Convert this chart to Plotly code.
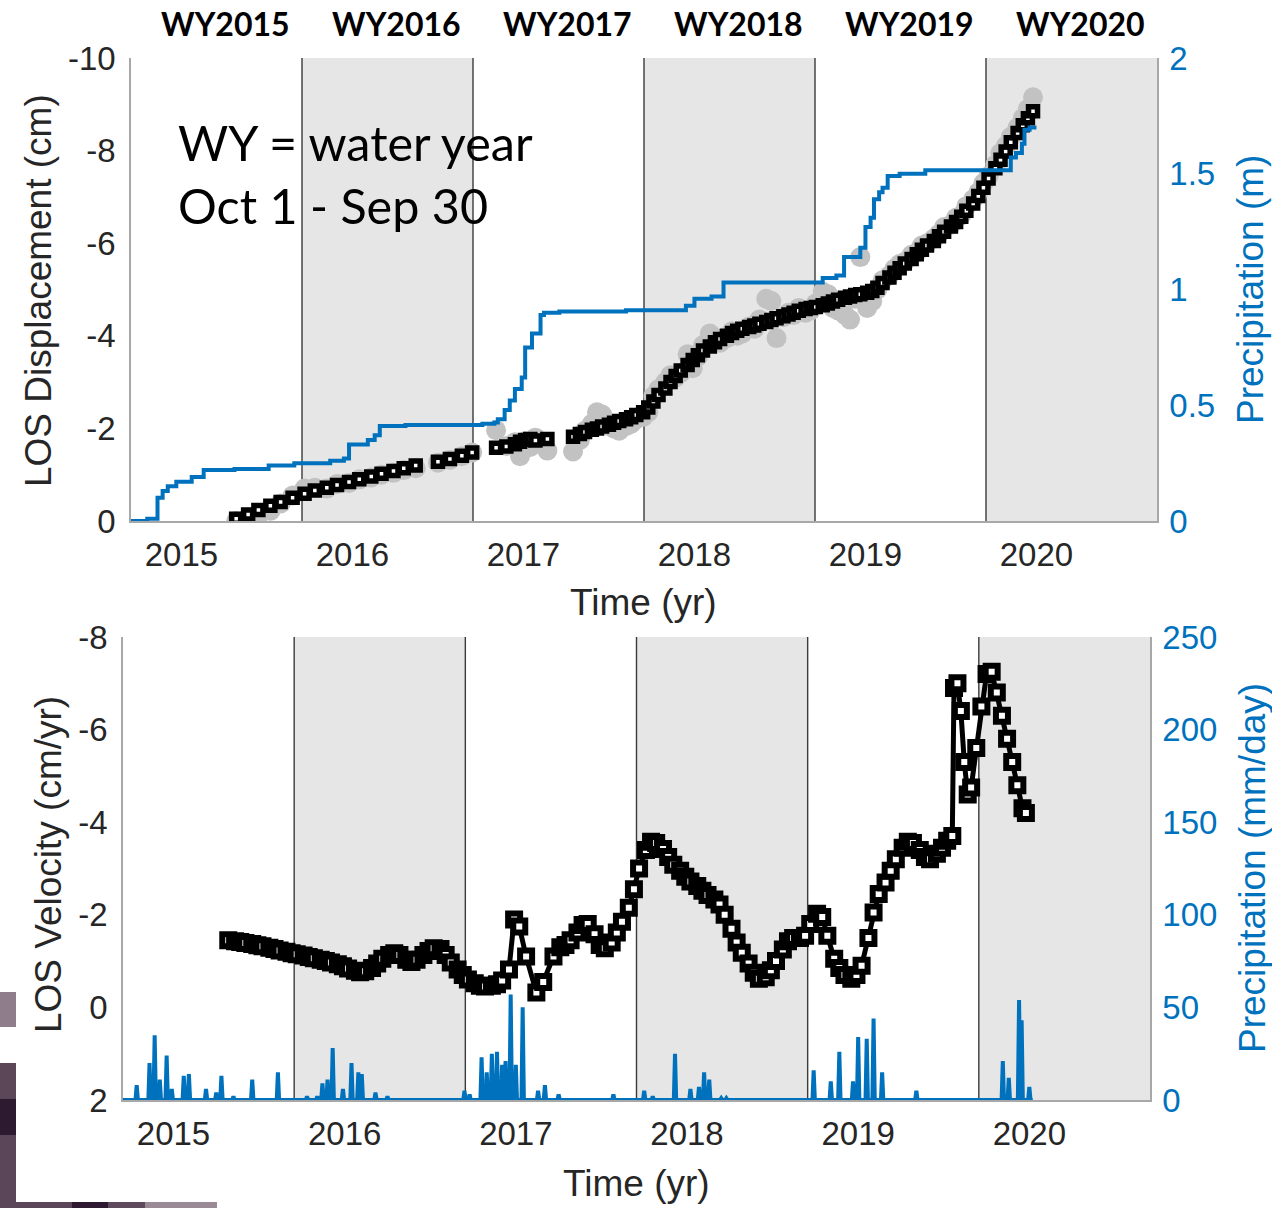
import plotly.graph_objects as go

W, H = 1272, 1208

# ------------------------------------------------------------------ data
years = [2015, 2016, 2017, 2018, 2019, 2020]
year_labels = ["2015", "2016", "2017", "2018", "2019", "2020"]
wy_labels = ["WY2015", "WY2016", "WY2017", "WY2018", "WY2019", "WY2020"]
wy_start = [2014.705, 2015.705, 2016.705, 2017.705, 2018.705, 2019.705]
wy_end = 2020.705

# LOS displacement (cm): smoothed (black squares) and raw (grey)
disp_t = [2015.32, 2015.39, 2015.45, 2015.52, 2015.58, 2015.65, 2015.72, 2015.78, 2015.85, 2015.91,
          2015.98, 2016.04, 2016.11, 2016.17, 2016.24, 2016.30, 2016.37, 2016.50, 2016.57, 2016.64,
          2016.70, 2016.84, 2016.90, 2016.95, 2016.98, 2017.01, 2017.04, 2017.07, 2017.14,
          2017.29, 2017.33, 2017.36, 2017.40, 2017.43, 2017.46, 2017.50, 2017.53, 2017.56, 2017.60,
          2017.63, 2017.66, 2017.70, 2017.73, 2017.76, 2017.79, 2017.83, 2017.86, 2017.89, 2017.92,
          2017.96, 2017.99, 2018.02, 2018.05, 2018.09, 2018.12, 2018.15, 2018.19, 2018.22, 2018.25,
          2018.28, 2018.32, 2018.35, 2018.38, 2018.42, 2018.45, 2018.48, 2018.52, 2018.55, 2018.58,
          2018.61, 2018.65, 2018.68, 2018.71, 2018.75, 2018.78, 2018.81, 2018.84, 2018.88, 2018.91,
          2018.94, 2018.97, 2019.01, 2019.04, 2019.07, 2019.10, 2019.14, 2019.17, 2019.20, 2019.23,
          2019.27, 2019.30, 2019.33, 2019.36, 2019.40, 2019.43, 2019.46, 2019.50, 2019.53, 2019.56,
          2019.59, 2019.63, 2019.66, 2019.69, 2019.72, 2019.76, 2019.79, 2019.82, 2019.85, 2019.89,
          2019.92, 2019.95, 2019.98]
disp_smooth = [-0.05, -0.14, -0.24, -0.33, -0.41, -0.50, -0.59, -0.66, -0.72, -0.78,
               -0.84, -0.90, -0.96, -1.02, -1.08, -1.14, -1.20, -1.28, -1.34, -1.41,
               -1.48, -1.58, -1.61, -1.66, -1.71, -1.75, -1.77, -1.74, -1.77,
               -1.82, -1.88, -1.92, -1.97, -2.00, -2.04, -2.08, -2.12, -2.16, -2.20,
               -2.24, -2.29, -2.35, -2.45, -2.58, -2.72, -2.86, -3.00, -3.13, -3.25,
               -3.37, -3.48, -3.58, -3.68, -3.77, -3.86, -3.93, -4.00, -4.06, -4.11,
               -4.15, -4.19, -4.22, -4.26, -4.30, -4.34, -4.38, -4.42, -4.46, -4.50,
               -4.54, -4.58, -4.60, -4.62, -4.66, -4.70, -4.74, -4.78, -4.82, -4.85,
               -4.88, -4.90, -4.93, -4.97, -5.04, -5.14, -5.26, -5.36, -5.46, -5.56,
               -5.66, -5.76, -5.86, -5.95, -6.05, -6.15, -6.25, -6.36, -6.46, -6.57,
               -6.70, -6.86, -7.02, -7.20, -7.40, -7.62, -7.80, -7.98, -8.18, -8.38,
               -8.55, -8.70, -8.85]
disp_raw = [0.00, -0.08, -0.12, -0.22, -0.38, -0.55, -0.70, -0.72, -0.70, -0.80,
            -0.82, -0.90, -0.94, -1.00, -1.04, -1.10, -1.14, -1.26, -1.32, -1.40,
            -1.48, -1.96, -1.62, -1.70, -1.40, -1.72, -1.60, -1.80, -1.52,
            -1.50, -1.75, -1.95, -2.10, -2.35, -2.30, -2.05, -2.00, -1.95, -2.05,
            -2.10, -2.20, -2.25, -2.35, -2.70, -2.85, -3.00, -3.15, -3.10, -3.20,
            -3.60, -3.30, -3.55, -3.80, -4.05, -3.95, -3.85, -3.95, -4.10, -4.00,
            -4.05, -4.20, -4.15, -4.35, -4.80, -4.75, -3.95, -4.40, -4.50, -4.45,
            -4.60, -4.50, -4.55, -4.70, -4.95, -4.90, -4.60, -4.55, -4.45, -4.35,
            -4.80, -5.70, -4.60, -4.75, -5.00, -5.20, -5.30, -5.45, -5.55, -5.60,
            -5.75, -5.80, -5.95, -6.00, -6.10, -6.20, -6.35, -6.40, -6.55, -6.60,
            -6.80, -6.95, -7.10, -7.30, -7.45, -7.70, -7.95, -8.10, -8.30, -8.50,
            -8.70, -8.90, -9.15]

# cumulative precipitation (m)
cum_t = [2014.705, 2014.80, 2014.86, 2014.89, 2014.92, 2014.97, 2015.06, 2015.13, 2015.31, 2015.51,
         2015.66, 2015.87, 2015.95, 2015.98, 2016.09, 2016.13, 2016.16, 2016.31, 2016.76, 2016.83,
         2016.85, 2016.89, 2016.92, 2016.95, 2016.99, 2017.01, 2017.05, 2017.10, 2017.12, 2017.21,
         2017.60, 2017.95, 2018.00, 2018.10, 2018.17, 2018.75, 2018.83, 2018.875, 2018.97, 2019.00,
         2019.03, 2019.05, 2019.08, 2019.10, 2019.13, 2019.20, 2019.35, 2019.85, 2019.88, 2019.915,
         2019.93, 2019.96, 2020.00]
cum_precip_m = [0.00, 0.01, 0.10, 0.13, 0.15, 0.17, 0.19, 0.22, 0.225, 0.24,
                0.25, 0.26, 0.27, 0.33, 0.35, 0.37, 0.41, 0.415, 0.42, 0.425,
                0.44, 0.48, 0.52, 0.57, 0.62, 0.75, 0.81, 0.89, 0.90, 0.905,
                0.91, 0.93, 0.96, 0.97, 1.03, 1.05, 1.06, 1.14, 1.18, 1.27,
                1.31, 1.39, 1.42, 1.44, 1.49, 1.50, 1.515, 1.57, 1.59, 1.63,
                1.69, 1.70, 1.70]

# LOS velocity (cm/yr)
vel_t = [2015.32, 2015.36, 2015.39, 2015.42, 2015.46, 2015.49, 2015.52, 2015.56, 2015.59, 2015.62,
         2015.66, 2015.69, 2015.72, 2015.76, 2015.79, 2015.82, 2015.86, 2015.89, 2015.92, 2015.96,
         2015.99, 2016.02, 2016.06, 2016.09, 2016.12, 2016.16, 2016.19, 2016.22, 2016.26, 2016.29,
         2016.32, 2016.36, 2016.39, 2016.42, 2016.46, 2016.49, 2016.52, 2016.56, 2016.59, 2016.62,
         2016.66, 2016.69, 2016.72, 2016.76, 2016.79, 2016.82, 2016.86, 2016.89, 2016.92, 2016.96,
         2016.99, 2017.02, 2017.06, 2017.12, 2017.16, 2017.22, 2017.26, 2017.29, 2017.32, 2017.36,
         2017.39, 2017.42, 2017.46, 2017.49, 2017.52, 2017.56, 2017.59, 2017.62, 2017.66, 2017.69,
         2017.72, 2017.76, 2017.79, 2017.82, 2017.86, 2017.89, 2017.92, 2017.96, 2017.99, 2018.02,
         2018.06, 2018.09, 2018.12, 2018.16, 2018.19, 2018.22, 2018.26, 2018.29, 2018.32, 2018.36,
         2018.39, 2018.42, 2018.46, 2018.49, 2018.52, 2018.56, 2018.59, 2018.62, 2018.66, 2018.69,
         2018.72, 2018.76, 2018.79, 2018.82, 2018.86, 2018.89, 2018.92, 2018.96, 2018.99, 2019.02,
         2019.06, 2019.09, 2019.12, 2019.16, 2019.19, 2019.22, 2019.26, 2019.29, 2019.32, 2019.36,
         2019.39, 2019.42, 2019.46, 2019.49, 2019.52, 2019.55, 2019.56, 2019.58, 2019.60, 2019.62,
         2019.64, 2019.66, 2019.69, 2019.72, 2019.75, 2019.78, 2019.81, 2019.84, 2019.87, 2019.90,
         2019.93, 2019.96, 2019.98]
vel_cm_yr = [-1.45, -1.43, -1.41, -1.39, -1.37, -1.34, -1.32, -1.29, -1.26, -1.23,
             -1.20, -1.17, -1.15, -1.12, -1.09, -1.06, -1.03, -1.00, -0.97, -0.93,
             -0.89, -0.84, -0.79, -0.76, -0.78, -0.85, -0.95, -1.05, -1.13, -1.17,
             -1.13, -1.03, -0.98, -1.03, -1.13, -1.22, -1.28, -1.26, -1.13, -0.97,
             -0.82, -0.70, -0.60, -0.52, -0.47, -0.45, -0.47, -0.50, -0.58, -0.82,
             -1.90, -1.75, -1.10, -0.32, -0.55, -1.10, -1.30, -1.35, -1.45, -1.62,
             -1.78, -1.80, -1.58, -1.35, -1.28, -1.40, -1.62, -1.85, -2.15, -2.55,
             -3.00, -3.40, -3.58, -3.55, -3.42, -3.25, -3.08, -2.95, -2.82, -2.72,
             -2.62, -2.52, -2.43, -2.33, -2.22, -2.00, -1.70, -1.40, -1.18, -0.95,
             -0.75, -0.62, -0.65, -0.80, -1.00, -1.25, -1.43, -1.50, -1.50, -1.55,
             -1.80, -2.02, -1.95, -1.55, -1.05, -0.85, -0.70, -0.62, -0.70, -0.90,
             -1.50, -2.05, -2.45, -2.70, -2.95, -3.20, -3.45, -3.58, -3.55, -3.40,
             -3.25, -3.20, -3.32, -3.45, -3.60, -3.70, -6.90, -7.00, -6.40, -5.30,
             -4.60, -4.75, -5.60, -6.50, -7.20, -7.25, -6.80, -6.30, -5.80, -5.30,
             -4.80, -4.30, -4.20]

# daily precipitation (mm/day) on rainy days; all other days are dry (0)
rain_start, rain_end = 2014.705, 2020.02
rain_t = [2014.785, 2014.86, 2014.89, 2014.92, 2014.96, 2014.99, 2015.06, 2015.09, 2015.19, 2015.25,
          2015.28, 2015.35, 2015.46, 2015.61, 2015.78, 2015.84, 2015.87, 2015.90, 2015.93, 2015.99,
          2016.04, 2016.08, 2016.10, 2016.18, 2016.25, 2016.70, 2016.73, 2016.80, 2016.83, 2016.86,
          2016.89, 2016.92, 2016.94, 2016.97, 2017.00, 2017.04, 2017.13, 2017.17, 2017.25, 2017.57,
          2017.75, 2017.80, 2017.93, 2018.02, 2018.07, 2018.10, 2018.13, 2018.20, 2018.23, 2018.74,
          2018.84, 2018.89, 2018.97, 2019.00, 2019.05, 2019.09, 2019.14, 2019.34, 2019.845, 2019.88,
          2019.94, 2019.955, 2020.00]
rain_mm = [8, 20, 35, 11, 24, 6, 13, 14, 6, 4,
           13, 2, 11, 15, 2, 2, 9, 11, 28, 6,
           20, 15, 14, 4, 2, 5, 3, 23, 15, 25,
           26, 19, 21, 57, 19, 50, 5, 8, 3, 3,
           5, 2, 25, 6, 7, 15, 11, 1, 1, 16,
           10, 26, 10, 34, 33, 44, 15, 5, 21, 12,
           54, 43, 7]

disp_ticks = [-10, -8, -6, -4, -2, 0]
cum_ticks = [0, 0.5, 1, 1.5, 2]
vel_ticks = [-8, -6, -4, -2, 0, 2]
rain_ticks = [0, 50, 100, 150, 200, 250]

# ------------------------------------------------------------------ style
BLUE = "#0072BD"
TXT = "#262626"
AXC = "#a8a8a8"
FONT = "Liberation Sans, Arial, Helvetica, sans-serif"
TICK = 33
TITLE = 37


def px_x(p):
    return p / W


def px_y(p):
    return 1 - p / H


def lab(v):
    return "%g" % v


# ------------------------------------------------------------------ figure
fig = go.Figure()

# top panel
fig.add_trace(go.Scatter(x=disp_t, y=disp_raw, mode="markers", xaxis="x", yaxis="y",
                         marker=dict(symbol="circle", size=20, color="#c2c2c2"),
                         showlegend=False, hoverinfo="skip"))
fig.add_trace(go.Scatter(x=disp_t, y=disp_smooth, mode="markers", xaxis="x", yaxis="y",
                         marker=dict(symbol="square", size=9, color="white",
                                     line=dict(width=5.5, color="black")),
                         showlegend=False))
fig.add_trace(go.Scatter(x=cum_t, y=cum_precip_m, mode="lines", xaxis="x", yaxis="y2",
                         line=dict(color=BLUE, width=4, shape="hv"), showlegend=False))

# bottom panel
fig.add_trace(go.Scatter(x=vel_t, y=vel_cm_yr, mode="lines+markers", xaxis="x2", yaxis="y3",
                         line=dict(color="black", width=5),
                         marker=dict(symbol="square", size=12, color="white",
                                     line=dict(width=6, color="black")),
                         showlegend=False))
rx, ry = [rain_start], [0]
for t, v in zip(rain_t, rain_mm):
    rx += [t - 0.007, t, t + 0.007]
    ry += [0, v, 0]
rx.append(rain_end)
ry.append(0)
fig.add_trace(go.Scatter(x=rx, y=ry, mode="lines", xaxis="x2", yaxis="y4",
                         line=dict(color=BLUE, width=4), showlegend=False))

# water-year shading and boundaries
shapes = []
for xa, ya in (("x", "y"), ("x2", "y3")):
    for i, s in enumerate(wy_start):
        if i % 2 == 1:
            e = wy_start[i + 1] if i + 1 < len(wy_start) else wy_end
            shapes.append(dict(type="rect", xref=xa, yref=ya + " domain", x0=s, x1=e, y0=0, y1=1,
                               fillcolor="#e6e6e6", line=dict(width=0), layer="below"))
    for s in wy_start[1:]:
        shapes.append(dict(type="line", xref=xa, yref=ya + " domain", x0=s, x1=s, y0=0, y1=1,
                           line=dict(color="#3a3a3a", width=1.4), layer="below"))

# image-edge artifact blocks (bottom-left corner of the source picture)
blocks = [
    (0, 992, 16, 1027, "#8f7d8b"),
    (0, 1063, 16, 1099, "#5c4759"),
    (0, 1099, 16, 1135, "#2d1930"),
    (0, 1135, 16, 1208, "#5a4658"),
    (0, 1202, 72, 1208, "#5a4658"),
    (72, 1202, 108, 1208, "#2d1930"),
    (108, 1202, 145, 1208, "#5e4a5c"),
    (145, 1202, 217, 1208, "#9a8a96"),
]
for x0, y0, x1, y1, c in blocks:
    shapes.append(dict(type="rect", xref="paper", yref="paper", x0=px_x(x0), x1=px_x(x1),
                       y0=px_y(y1), y1=px_y(y0), fillcolor=c, line=dict(width=0), layer="above"))

annotations = []
for wy, lbl in zip(years, wy_labels):
    annotations.append(dict(text=lbl, xref="x", yref="paper", x=wy + 0.255, y=px_y(23),
                            xanchor="center", yanchor="middle", showarrow=False,
                            font=dict(family="Lato, Carlito, sans-serif", size=32, color="black",
                                      weight="bold")))
annotations.append(dict(text="WY = water year<br>Oct 1 - Sep 30", xref="paper", yref="paper",
                        x=px_x(176), y=px_y(111), xanchor="left", yanchor="top", align="left",
                        showarrow=False,
                        font=dict(family="Lato, Carlito, sans-serif", size=48.5, color="black")))

titles = [
    ("LOS Displacement (cm)", 38, 291, -90, TXT),
    ("Precipitation (m)", 1250, 290, -90, BLUE),
    ("Time (yr)", 643, 602, 0, TXT),
    ("LOS Velocity (cm/yr)", 48, 865, -90, TXT),
    ("Precipitation (mm/day)", 1252, 868, -90, BLUE),
    ("Time (yr)", 636, 1183, 0, TXT),
]
for text, cx, cy, ang, col in titles:
    annotations.append(dict(text=text, xref="paper", yref="paper", x=px_x(cx), y=px_y(cy),
                            xanchor="center", yanchor="middle", textangle=ang, showarrow=False,
                            font=dict(family=FONT, size=TITLE, color=col)))

common_x = dict(range=[wy_start[0], wy_end], tickvals=years, ticktext=year_labels,
                showline=True, linecolor=AXC, linewidth=1.5, showgrid=False, zeroline=False,
                ticks="", tickfont=dict(family=FONT, size=TICK, color=TXT), ticklabelstandoff=4)


def yax(rng, tv, color, side, standoff, **kw):
    d = dict(range=rng, tickvals=tv, ticktext=[lab(v) for v in tv], showline=True, linecolor=AXC,
             linewidth=1.5, showgrid=False, zeroline=False, ticks="", side=side,
             tickfont=dict(family=FONT, size=TICK, color=color), ticklabelstandoff=standoff)
    d.update(kw)
    return d


fig.update_layout(
    width=W, height=H, margin=dict(l=0, r=0, t=0, b=0), template="none",
    paper_bgcolor="white", plot_bgcolor="white", showlegend=False,
    xaxis=dict(domain=[px_x(131), px_x(1157)], anchor="y", **common_x),
    yaxis=yax([0, -10], disp_ticks, TXT, "left", 7, domain=[px_y(521), px_y(58)], anchor="x"),
    yaxis2=yax([0, 2], cum_ticks, BLUE, "right", 4, overlaying="y", anchor="x"),
    xaxis2=dict(domain=[px_x(123), px_x(1150)], anchor="y3", **common_x),
    yaxis3=yax([2, -8], vel_ticks, TXT, "left", 7, domain=[px_y(1100), px_y(637)], anchor="x2"),
    yaxis4=yax([0, 250], rain_ticks, BLUE, "right", 4, overlaying="y3", anchor="x2"),
    shapes=shapes, annotations=annotations,
)

fig.write_html("out.html", config={"displayModeBar": False},
               post_script="document.body.style.margin='0';document.body.style.overflow='hidden';")
